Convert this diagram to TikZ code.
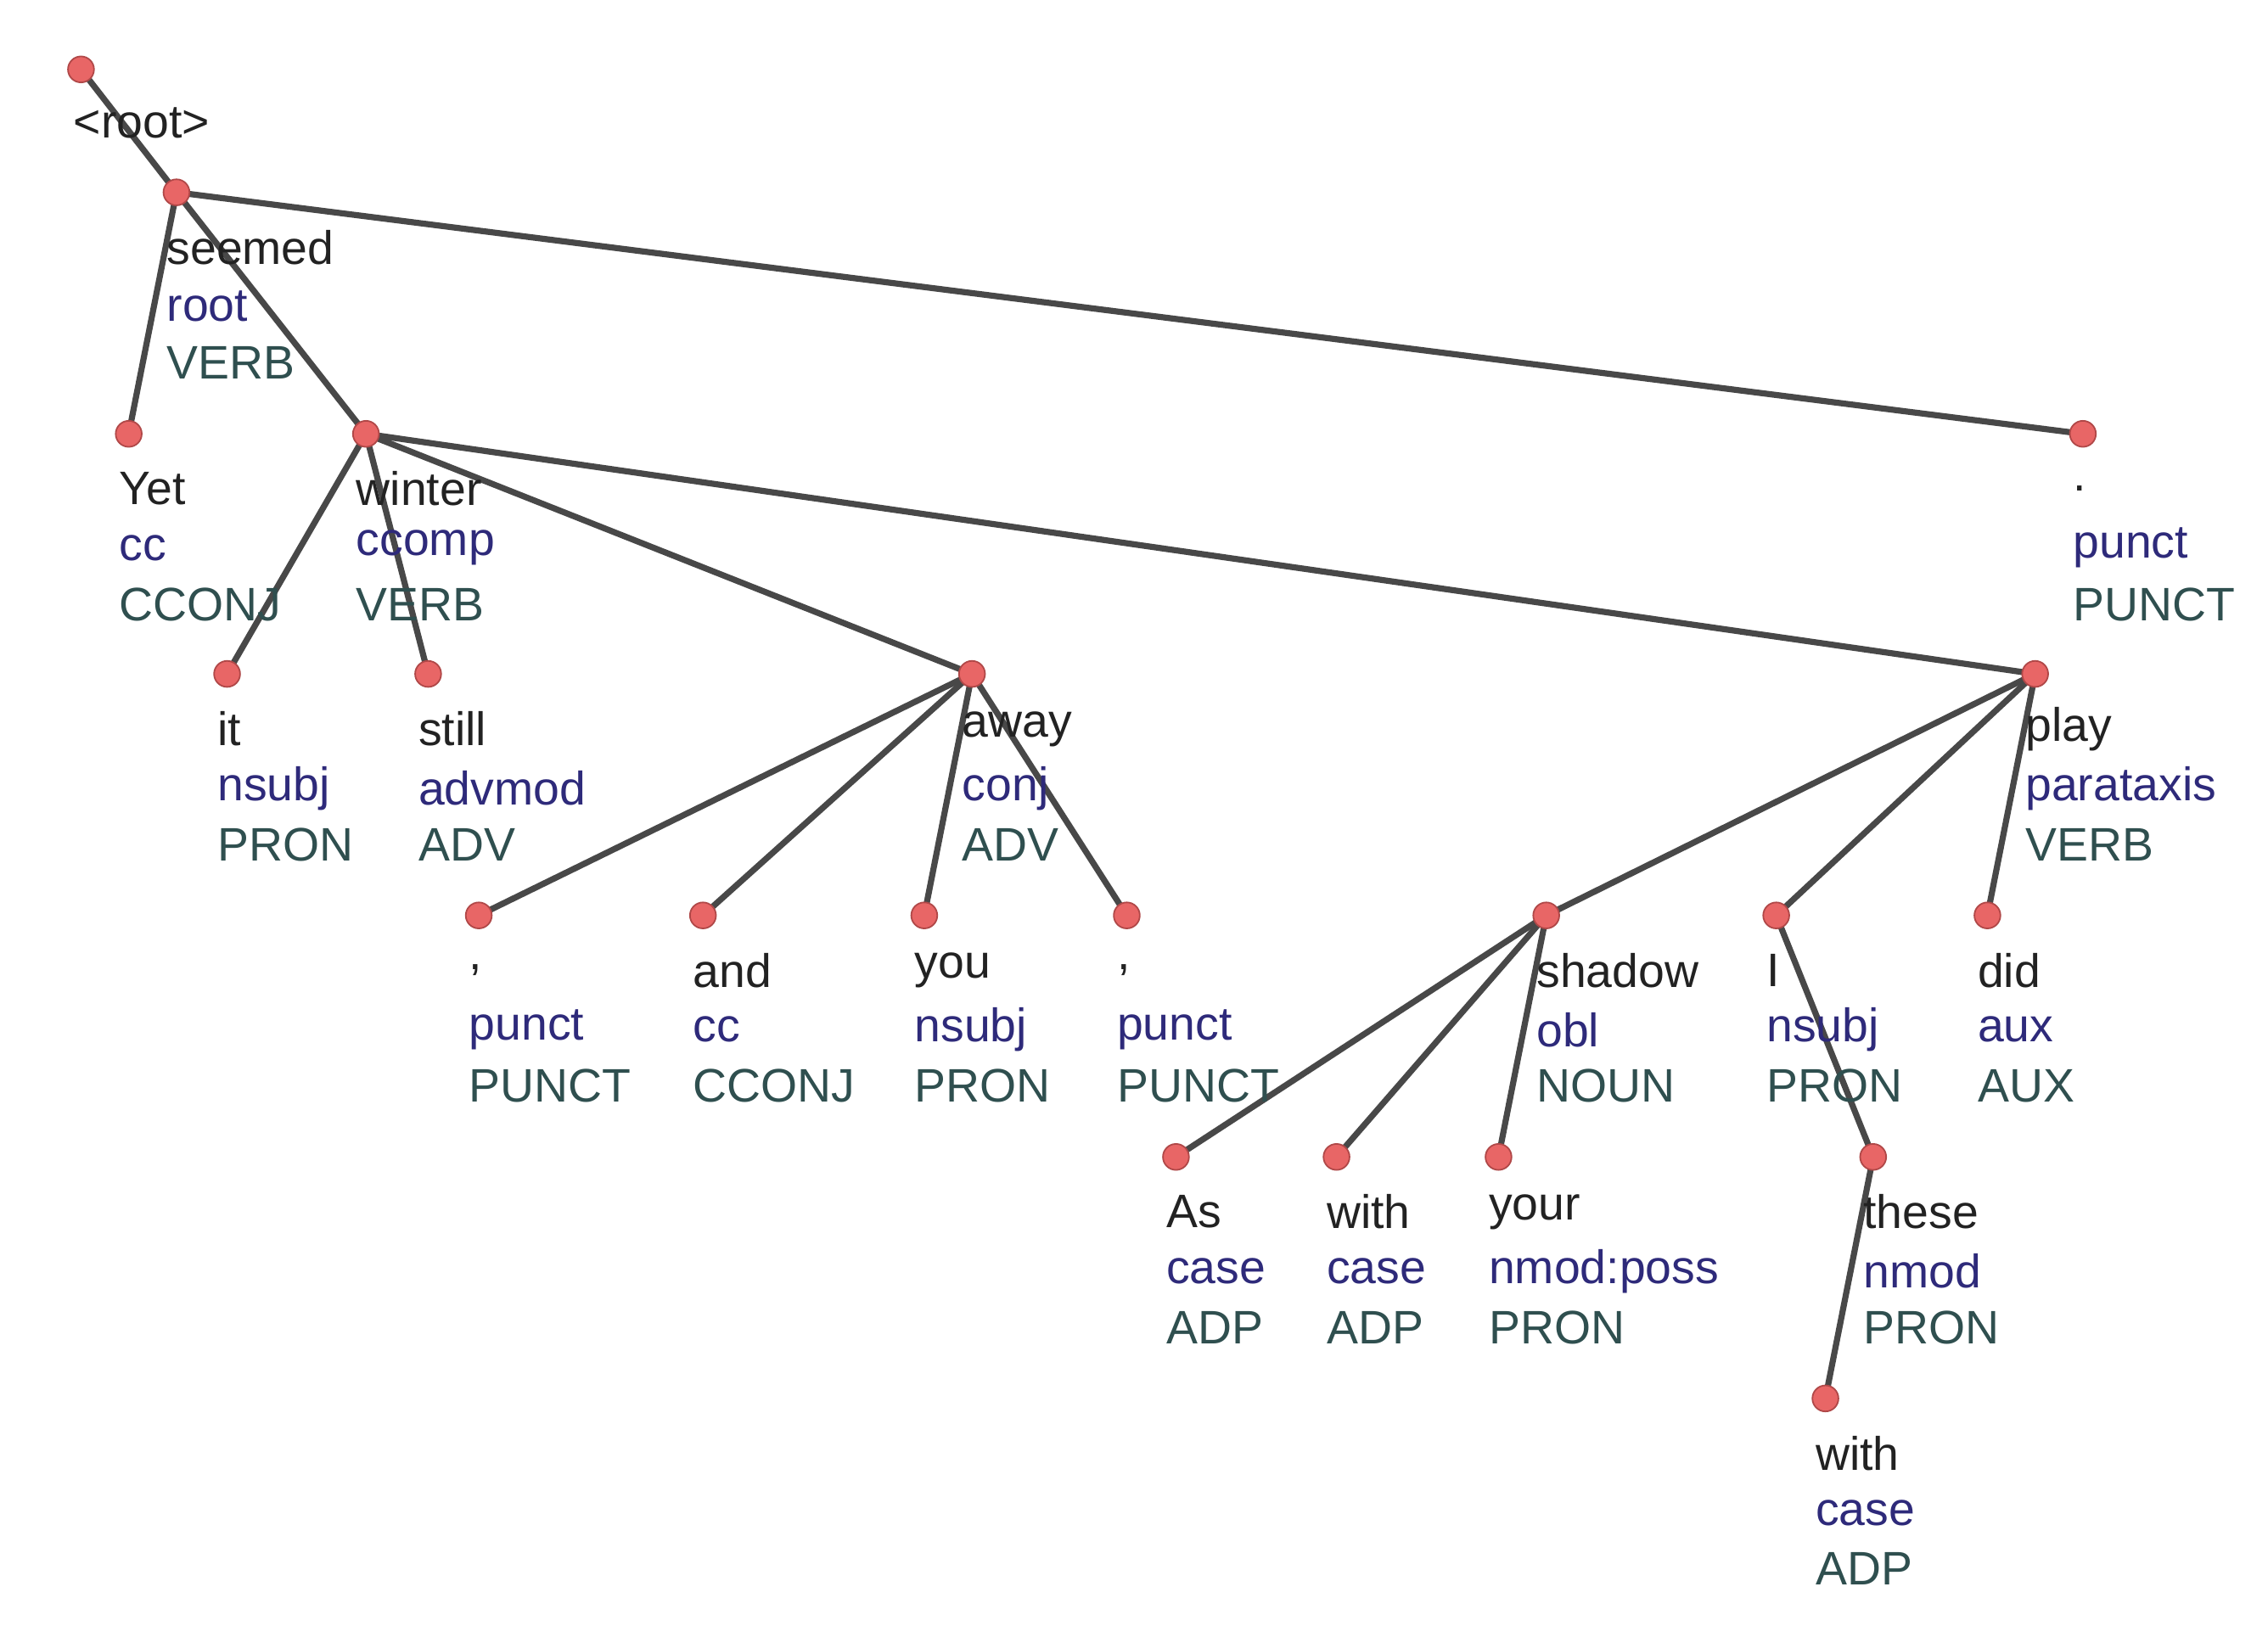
\documentclass[tikz,border=0pt]{standalone}
\usepackage{fontspec}
\setmainfont{Liberation Sans}
\definecolor{dot}{HTML}{E86666}
\definecolor{dotb}{HTML}{B04848}
\definecolor{edge}{HTML}{484848}
\definecolor{wordc}{HTML}{222222}
\definecolor{relc}{HTML}{2E2A7A}
\definecolor{posc}{HTML}{2F4F4F}
\tikzset{
  dotn/.style={circle,fill=dot,draw=dotb,line width=0.6pt,minimum size=0.36cm,inner sep=0pt},
  edg/.style={draw=edge,line width=2.4pt},
  lbl/.style={anchor=west,inner sep=0pt,font=\fontsize{18.5}{22}\selectfont}
}
\newcommand{\tokn}[6]{%
  \node[dotn] (#1) at (#2,#3) {};
  \node[lbl,text=wordc] (#1w) at (#2-7,#3+38) {#4};
  \node[lbl,text=relc] (#1r) at (#2-7,#3+79) {#5};
  \node[lbl,text=posc] (#1p) at (#2-7,#3+118) {#6};
}
\begin{document}
\begin{tikzpicture}[x=0.02cm,y=-0.02cm]
\useasboundingbox (0,0) rectangle (1568,1124);
\coordinate (r0) at (56,48);
\coordinate (s) at (122,133);
\coordinate (yet) at (89,300);
\coordinate (win) at (253,300);
\coordinate (pd) at (1440,300);
\coordinate (it) at (157,466);
\coordinate (st) at (296,466);
\coordinate (aw) at (672,466);
\coordinate (pl) at (1407,466);
\coordinate (c1) at (331,633);
\coordinate (and) at (486,633);
\coordinate (you) at (639,633);
\coordinate (c2) at (779,633);
\coordinate (sh) at (1069,633);
\coordinate (I) at (1228,633);
\coordinate (did) at (1374,633);
\coordinate (as) at (813,800);
\coordinate (w1) at (924,800);
\coordinate (your) at (1036,800);
\coordinate (th) at (1295,800);
\coordinate (w2) at (1262,967);
\foreach \a/\b in {r0/s,s/yet,s/win,s/pd,win/it,win/st,win/aw,win/pl,aw/c1,aw/and,aw/you,aw/c2,pl/sh,pl/I,pl/did,sh/as,sh/w1,sh/your,I/th,th/w2}
  \draw[edg] (\a) -- (\b);
\node[dotn] (root) at (r0) {};
\node[lbl,anchor=center,text=wordc] (rootw) at (98,85) {\textless root\textgreater};
\tokn{seemed}{122}{133}{seemed}{root}{VERB}
\tokn{Yet}{89}{300}{Yet}{cc}{CCONJ}
\tokn{winter}{253}{300}{winter}{ccomp}{VERB}
\tokn{pdot}{1440}{300}{.}{punct}{PUNCT}
\tokn{it}{157}{466}{it}{nsubj}{PRON}
\tokn{still}{296}{466}{still}{advmod}{ADV}
\tokn{away}{672}{466}{away}{conj}{ADV}
\tokn{play}{1407}{466}{play}{parataxis}{VERB}
\tokn{comma1}{331}{633}{,}{punct}{PUNCT}
\tokn{and}{486}{633}{and}{cc}{CCONJ}
\tokn{you}{639}{633}{you}{nsubj}{PRON}
\tokn{comma2}{779}{633}{,}{punct}{PUNCT}
\tokn{shadow}{1069}{633}{shadow}{obl}{NOUN}
\tokn{I}{1228}{633}{I}{nsubj}{PRON}
\tokn{did}{1374}{633}{did}{aux}{AUX}
\tokn{As}{813}{800}{As}{case}{ADP}
\tokn{with}{924}{800}{with}{case}{ADP}
\tokn{your}{1036}{800}{your}{nmod:poss}{PRON}
\tokn{these}{1295}{800}{these}{nmod}{PRON}
\tokn{withb}{1262}{967}{with}{case}{ADP}
\end{tikzpicture}
\end{document}
